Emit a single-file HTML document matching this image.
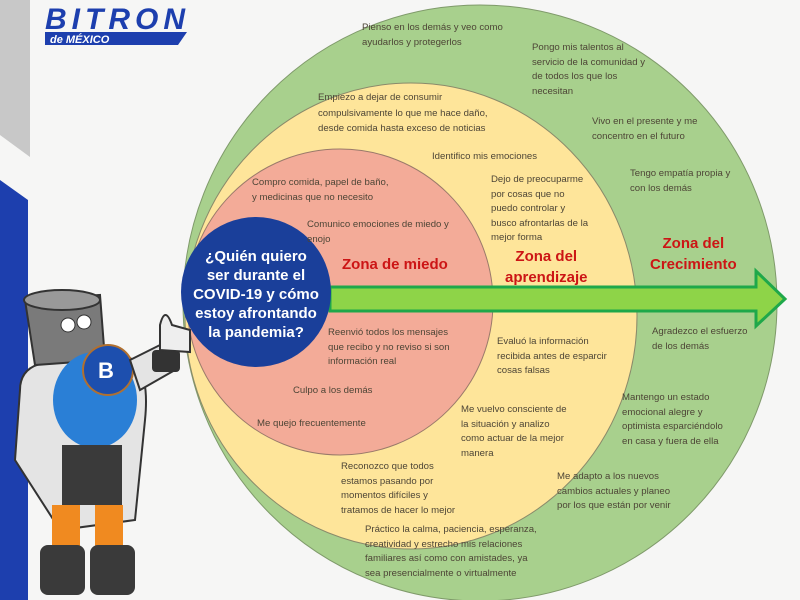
<!DOCTYPE html>
<html><head><meta charset="utf-8"><style>
body{margin:0;width:800px;height:600px;overflow:hidden;background:#f6f6f5;font-family:"Liberation Sans",sans-serif;position:relative}
.t{position:absolute;font-size:9.6px;line-height:14.5px;color:#4d4536;white-space:nowrap}
.z{position:absolute;font-size:15px;line-height:21px;color:#cc1515;font-weight:bold;text-align:center;white-space:nowrap}
</style></head><body>
<svg width="800" height="600" style="position:absolute;left:0;top:0">
<polygon points="0,0 30,0 30,157 0,135" fill="#c8c8c8"/>
<polygon points="0,180 28,200 28,600 0,600" fill="#1d3fae"/>
<ellipse cx="480" cy="303" rx="297" ry="298" fill="#a8d08d" stroke="#7f9a6a" stroke-width="1"/>
<ellipse cx="411" cy="316" rx="226" ry="233" fill="#fee59a" stroke="#8a8a6a" stroke-width="1"/>
<ellipse cx="340" cy="302" rx="153" ry="153" fill="#f3ab98" stroke="#9a7a6a" stroke-width="1"/>
<polygon points="330,287 756,287 756,271 785,299 756,326 756,311 330,311" fill="#8ed448" stroke="#1fa84a" stroke-width="3"/>
<circle cx="256" cy="292" r="75" fill="#1a3f9a"/>
<!-- logo -->
<text x="45" y="29" font-family="Liberation Sans" font-weight="bold" font-style="italic" font-size="30" fill="#1d3fae" textLength="140">BITRON</text>
<polygon points="45,32 187,32 178,45 45,45" fill="#1d3fae"/>
<text x="50" y="43" font-family="Liberation Sans" font-weight="bold" font-style="italic" font-size="11" fill="#fff">de MÉXICO</text>
<!-- mascot -->
<path d="M20,390 Q20,365 50,362 L130,358 Q150,370 145,420 L135,520 L60,530 L15,460 Z" fill="#e4e4e4" stroke="#333" stroke-width="2"/>
<path d="M25,300 L100,295 L105,360 L35,365 Z" fill="#7a7a7a" stroke="#333" stroke-width="2"/>
<ellipse cx="62" cy="300" rx="38" ry="10" fill="#999" stroke="#333" stroke-width="2"/>
<circle cx="68" cy="325" r="7" fill="#fff" stroke="#333"/>
<circle cx="84" cy="322" r="7" fill="#fff" stroke="#333"/>
<ellipse cx="95" cy="400" rx="42" ry="48" fill="#2a7fd6"/>
<circle cx="108" cy="370" r="25" fill="#1d4fae" stroke="#b07030" stroke-width="2"/>
<text x="98" y="378" font-family="Liberation Sans" font-weight="bold" font-size="22" fill="#fff">B</text>
<path d="M130,360 L160,345 L175,370 L140,390 Z" fill="#e4e4e4" stroke="#333" stroke-width="2"/>
<rect x="152" y="350" width="28" height="22" rx="4" fill="#333"/>
<path d="M160,350 L160,325 Q165,305 172,325 L190,330 L190,352 Z" fill="#eee" stroke="#333" stroke-width="2"/>
<rect x="62" y="445" width="60" height="60" fill="#3a3a3a"/>
<rect x="52" y="505" width="28" height="45" fill="#f08a20"/>
<rect x="95" y="505" width="28" height="45" fill="#f08a20"/>
<rect x="40" y="545" width="45" height="50" rx="8" fill="#3a3a3a"/>
<rect x="90" y="545" width="45" height="50" rx="8" fill="#3a3a3a"/>
</svg>

<div class="t" style="left:362px;top:21px">Pienso en los demás y veo como<br>ayudarlos y protegerlos</div>
<div class="t" style="left:532px;top:41px">Pongo mis talentos al<br>servicio de la comunidad y<br>de todos los que los<br>necesitan</div>
<div class="t" style="left:592px;top:115px">Vivo en el presente y me<br>concentro en el futuro</div>
<div class="t" style="left:630px;top:167px">Tengo empatía propia y<br>con los demás</div>
<div class="z" style="left:650px;top:233px">Zona del<br>Crecimiento</div>
<div class="t" style="left:652px;top:325px">Agradezco el esfuerzo<br>de los demás</div>
<div class="t" style="left:622px;top:391px">Mantengo un estado<br>emocional alegre y<br>optimista esparciéndolo<br>en casa y fuera de ella</div>
<div class="t" style="left:557px;top:470px">Me adapto a los nuevos<br>cambios actuales y planeo<br>por los que están por venir</div>
<div class="t" style="left:365px;top:523px">Práctico la calma, paciencia, esperanza,<br>creatividad y estrecho mis relaciones<br>familiares así como con amistades, ya<br>sea presencialmente o virtualmente</div>

<div class="t" style="left:318px;top:90px;line-height:15.5px">Empiezo a dejar de consumir<br>compulsivamente lo que me hace daño,<br>desde comida hasta exceso de noticias</div>
<div class="t" style="left:432px;top:150px">Identifico mis emociones</div>
<div class="t" style="left:491px;top:173px">Dejo de preocuparme<br>por cosas que no<br>puedo controlar y<br>busco afrontarlas de la<br>mejor forma</div>
<div class="z" style="left:505px;top:246px">Zona del<br>aprendizaje</div>
<div class="t" style="left:497px;top:335px">Evaluó la información<br>recibida antes de esparcir<br>cosas falsas</div>
<div class="t" style="left:461px;top:403px">Me vuelvo consciente de<br>la situación y analizo<br>como actuar de la mejor<br>manera</div>
<div class="t" style="left:341px;top:460px">Reconozco que todos<br>estamos pasando por<br>momentos difíciles y<br>tratamos de hacer lo mejor</div>

<div class="t" style="left:252px;top:176px">Compro comida, papel de baño,<br>y medicinas que no necesito</div>
<div class="t" style="left:307px;top:218px">Comunico emociones de miedo y<br>enojo</div>
<div class="z" style="left:342px;top:254px">Zona de miedo</div>
<div class="t" style="left:328px;top:326px">Reenvió todos los mensajes<br>que recibo y no reviso si son<br>información real</div>
<div class="t" style="left:293px;top:384px">Culpo a los demás</div>
<div class="t" style="left:257px;top:417px">Me quejo frecuentemente</div>

<div style="position:absolute;left:181px;top:247px;width:150px;text-align:center;color:#fff;font-weight:bold;font-size:15px;line-height:19px">¿Quién quiero<br>ser durante el<br>COVID-19 y cómo<br>estoy afrontando<br>la pandemia?</div>
</body></html>
